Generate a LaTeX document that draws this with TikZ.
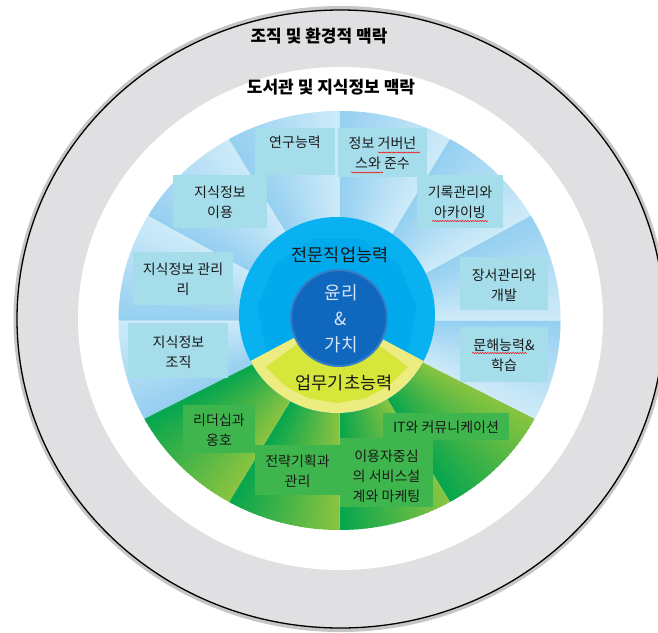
\documentclass[tikz,border=0pt]{standalone}
\usepackage{fontspec}
\setmainfont{Noto Sans CJK KR}
\usetikzlibrary{decorations.pathmorphing}
\definecolor{ringgray}{RGB}{224,224,226}
\definecolor{bluedark}{RGB}{148,207,240}
\definecolor{bluelight}{RGB}{206,235,249}
\definecolor{greendark}{RGB}{4,165,78}
\definecolor{greenlight}{RGB}{138,196,64}
\definecolor{midblue}{RGB}{8,178,241}
\definecolor{midblue2}{RGB}{0,170,236}
\definecolor{coreblue}{RGB}{16,104,190}
\definecolor{paleyellow}{RGB}{236,236,128}
\definecolor{limey}{RGB}{214,230,58}
\definecolor{boxblue}{RGB}{166,221,235}
\definecolor{boxgreen}{RGB}{63,182,77}
\definecolor{txt}{RGB}{25,25,25}
\definecolor{coretxt}{RGB}{214,228,246}
\begin{document}
\begin{tikzpicture}[x={(1pt,0pt)}, y={(0pt,-1pt)},
  kbox/.style={draw=none, inner sep=0pt},
  bbox/.style={kbox, fill=boxblue},
  gbox/.style={kbox, fill=boxgreen},
  ktext/.style={text=txt, align=center, inner sep=0pt, font=\fontsize{14}{20}\selectfont},
  ttl/.style={text=black, inner sep=0pt, font=\fontsize{17}{20}\selectfont\bfseries},
  ring/.style={text=txt, inner sep=0pt, font=\fontsize{17.5}{20}\selectfont},
  coretext/.style={text=coretxt, align=center, inner sep=0pt, font=\fontsize{18}{26}\selectfont},
  squig/.style={red, line width=0.5pt, decorate, decoration={snake, amplitude=0.6pt, segment length=2.5pt}}
]
\useasboundingbox (0,0) rectangle (658,632);
\clip (0,0) rectangle (658,632);
\fill[white] (0,0) rectangle (658,632);
% outer ring
\draw[gray!45, line width=4pt] (340.5,319) ellipse[x radius=325pt, y radius=311pt];
\filldraw[fill=ringgray, draw=black, line width=1.3pt] (340.5,319) ellipse[x radius=323.5pt, y radius=309pt];
\fill[white] (340.5,318.5) ellipse[x radius=262.5pt, y radius=251.5pt];
% coloured disk wedges
\def\Ox{339.5}\def\Oy{320.5}\def\Rx{221}\def\Ry{209.5}
\def\N{24}
\foreach \s/\e in {152/180,180/210,210/240,240/270,270/300,300/330,330/360,360/388}{
  \foreach \k in {0,...,23}{
    \pgfmathsetmacro\wa{\s+(\e-\s)*\k/\N}
    \pgfmathsetmacro\wb{min(\s+(\e-\s)*(\k+1)/\N+0.6,\e)}
    \pgfmathtruncatemacro\pp{100-(\k+0.5)*100/\N}
    \colorlet{wc}{bluedark!\pp!bluelight}
    \fill[wc] (\Ox,\Oy) -- plot[domain=\wa:\wb, samples=3] ({\Ox+\Rx*cos(\x)},{\Oy+\Ry*sin(\x)}) -- cycle;
  }
}
\foreach \s/\e in {28/60,60/90,90/120,120/152}{
  \foreach \k in {0,...,23}{
    \pgfmathsetmacro\wa{\s+(\e-\s)*\k/\N}
    \pgfmathsetmacro\wb{min(\s+(\e-\s)*(\k+1)/\N+0.6,\e)}
    \pgfmathtruncatemacro\pp{(\k+0.5)*100/\N}
    \colorlet{wc}{greendark!\pp!greenlight}
    \fill[wc] (\Ox,\Oy) -- plot[domain=\wa:\wb, samples=3] ({\Ox+\Rx*cos(\x)},{\Oy+\Ry*sin(\x)}) -- cycle;
  }
}
% boxes
\node[bbox, minimum width=80pt, minimum height=47pt] (b1) at (295,151.5) {};
\node[bbox, minimum width=89pt, minimum height=49pt] (b2) at (382.5,152.5) {};
\node[bbox, minimum width=86pt, minimum height=53pt] (b3) at (460,201.5) {};
\node[bbox, minimum width=94pt, minimum height=53pt] (b4) at (220,201.5) {};
\node[bbox, minimum width=100pt, minimum height=53pt] (b5) at (183,278.5) {};
\node[bbox, minimum width=100pt, minimum height=55pt] (b6) at (178,350.5) {};
\node[bbox, minimum width=88pt, minimum height=53pt] (b7) at (504,283.5) {};
\node[bbox, minimum width=88pt, minimum height=55pt] (b8) at (504,354.5) {};
\node[gbox, minimum width=72pt, minimum height=48pt] (b9) at (219,429) {};
\node[gbox, minimum width=85pt, minimum height=50pt] (b10) at (297.5,470) {};
\node[gbox, minimum width=126pt, minimum height=27pt] (b12) at (446,426.5) {};
\node[gbox, minimum width=93pt, minimum height=69pt] (b11) at (386.5,472.5) {};
% middle ring
\fill[midblue] (337,315) circle[radius=98pt];
\fill[midblue2] plot[domain=152:388, samples=8] ({337+80*cos(\x)},{315+80*sin(\x)}) -- cycle;
\fill[paleyellow] (337,315) -- plot[domain=28:152, samples=40] ({337+98*cos(\x)},{315+98*sin(\x)}) -- cycle;
\fill[limey] (337,315) -- plot[domain=36:144, samples=7] ({337+88*cos(\x)},{315+88*sin(\x)}) -- cycle;
\filldraw[fill=coreblue, draw=coreblue!85!white, line width=2pt] (339,318) circle[radius=48pt];
% texts
\node[ttl] (org) at (319,36) {조직 및 환경적 맥락};
\node[ttl] (lib) at (331,87) {도서관 및 지식정보 맥락};
\node[ring] (pro) at (340,255) {전문직업능력};
\node[ring] (basic) at (344,383) {업무기초능력};
\node[coretext] (core) at (341,319) {윤리\\\&\\가치};
\node[ktext] (t1) at (295,142) {연구능력};
\node[ktext] (t2) at (382.5,153) {정보 거버넌\\스와 준수};
\node[ktext] (t3) at (460,202) {기록관리와\\아카이빙};
\node[ktext] (t4) at (220,202) {지식정보\\이용};
\node[ktext] (t5) at (183,279) {지식정보 관리\\리};
\node[ktext] (t6) at (178.5,352) {지식정보\\조직};
\node[ktext] (t7) at (504,285) {장서관리와\\개발};
\node[ktext] (t8) at (504,355) {문해능력\&\\학습};
\node[ktext] (t9) at (219,430) {리더십과\\옹호};
\node[ktext] (t10) at (297.5,471) {전략기획과\\관리};
\node[ktext] (t11) at (386.5,476) {이용자중심\\의 서비스설\\계와 마케팅};
\node[ktext] (t12) at (446,427) {IT와 커뮤니케이션};
% spell-check marks
\draw[squig] (378,152.5) -- (420,152.5);
\draw[squig] (351,172.5) -- (383,172.5);
\draw[squig] (432,221) -- (488,221);
\draw[squig] (472,353) -- (527,353);
\end{tikzpicture}
\end{document}
